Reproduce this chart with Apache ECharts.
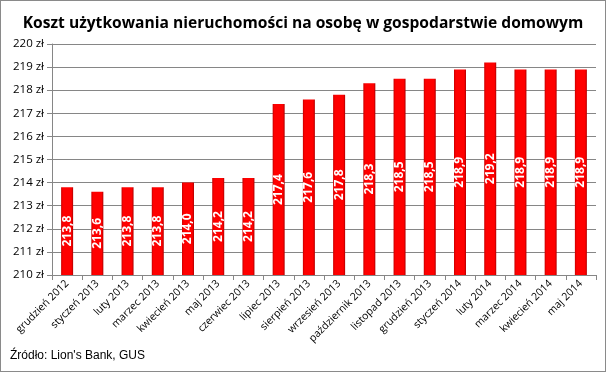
<!DOCTYPE html>
<html><head><meta charset="utf-8">
<script src="https://cdn.jsdelivr.net/npm/echarts@6/dist/echarts.min.js"></script>
<style>
html,body{margin:0;padding:0;background:#fff;}
#c{width:606px;height:372px;box-sizing:border-box;border:1px solid #8a8a8a;}
</style></head>
<body><div id="c"></div>
<script>
const categories = ['grudzień 2012','styczeń 2013','luty 2013','marzec 2013','kwiecień 2013','maj 2013','czerwiec 2013','lipiec 2013','sierpień 2013','wrzesień 2013','październik 2013','listopad 2013','grudzień 2013','styczeń 2014','luty 2014','marzec 2014','kwiecień 2014','maj 2014'];
const values = [213.8,213.6,213.8,213.8,214.0,214.2,214.2,217.4,217.6,217.8,218.3,218.5,218.5,218.9,219.2,218.9,218.9,218.9];
const titleText = 'Koszt użytkowania nieruchomości na osobę w gospodarstwie domowym';
const sourceText = 'Źródło: Lion\'s Bank, GUS';
const yMin = 210, yMax = 220, yStep = 1;

const chart = echarts.init(document.getElementById('c'), null, {renderer:'canvas'});
chart.setOption({
  animation:false,
  title:{text:titleText,left:'center',top:10,textStyle:{fontFamily:'Open Sans',fontWeight:'bold',fontSize:15.6,color:'#000'}},
  graphic:[{type:'text',left:9,top:349,style:{text:sourceText,font:'12px "Liberation Sans"',fill:'#000'}}],
  grid:{left:51,right:9,top:43,bottom:96},
  xAxis:{type:'category',data:categories,
    axisLine:{lineStyle:{color:'#868686',width:1}},
    axisTick:{show:true,alignWithLabel:false,length:5,lineStyle:{color:'#868686'}},
    axisLabel:{rotate:45,interval:0,fontFamily:'Open Sans',fontSize:10.5,color:'#000',margin:7}},
  yAxis:{type:'value',min:yMin,max:yMax,interval:yStep,
    axisLine:{show:true,lineStyle:{color:'#868686'}},
    axisTick:{show:true,length:5,lineStyle:{color:'#868686'}},
    splitLine:{lineStyle:{color:'#868686',width:1}},
    axisLabel:{fontFamily:'Open Sans',fontSize:11.5,color:'#000',margin:8,formatter:v=>v+' zł'}},
  series:[{type:'bar',data:values,barWidth:12,
    itemStyle:{color:new echarts.graphic.LinearGradient(0,0,1,0,[
      {offset:0,color:'#c80000'},{offset:0.15,color:'#ff0000'},{offset:0.85,color:'#ff0000'},{offset:1,color:'#b00000'}])},
    label:{show:true,position:'inside',rotate:90,color:'#fff',fontFamily:'Open Sans',fontWeight:'bold',fontSize:12,
      formatter:p=>p.value.toFixed(1).replace('.',',')}}]
});
</script></body></html>
